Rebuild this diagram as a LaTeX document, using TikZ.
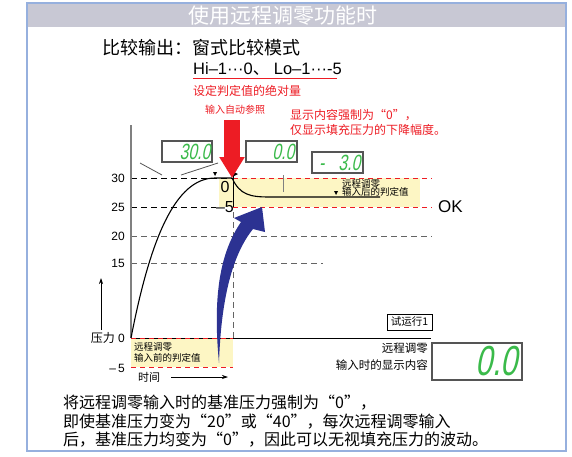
\documentclass[tikz,border=0pt]{standalone}
\usepackage{fontspec}
\setmainfont{Liberation Sans}
\newfontfamily\cjk{Noto Sans CJK SC}
\newfontfamily\lcdfont{Liberation Sans}[FakeStretch=0.72,FakeSlant=0.2]
\usetikzlibrary{arrows.meta}
\definecolor{hdrgray}{RGB}{200,200,212}
\definecolor{frameblue}{RGB}{150,176,222}
\definecolor{mred}{RGB}{237,28,36}
\definecolor{pale}{RGB}{253,246,196}
\definecolor{navy}{RGB}{44,50,146}
\definecolor{lcdgreen}{RGB}{58,186,74}
\definecolor{lcdframe}{RGB}{85,85,85}
\definecolor{dashgray}{RGB}{100,100,100}

\begin{document}
\begin{tikzpicture}[x=1pt,y=-1pt,
  every node/.style={inner sep=0pt},
  blackdash/.style={black,line width=0.8pt,dash pattern=on 6pt off 4pt},
  graydash/.style={dashgray,line width=1pt,dash pattern=on 6pt off 4pt},
  reddash/.style={mred,line width=0.9pt,dash pattern=on 5pt off 4pt},
  lcdbox/.style={draw=lcdframe,line width=1.1pt,fill=white},
  lcddigit/.style={text=lcdgreen,font=\lcdfont\fontsize{#1}{#1}\selectfont},
  axnum/.style={anchor=east,font=\fontsize{12}{12}\selectfont}]
\useasboundingbox (0,0) rectangle (572,456);
% frame and title bar
\fill [hdrgray] (27,3) rectangle (566,27);
\draw [frameblue,line width=1.5pt] (27,3) rectangle (566,451);
\node [text=white,font=\cjk\fontsize{21}{21}\selectfont] (title) at (283,16) {使用远程调零功能时};
\node [anchor=west,font=\cjk\fontsize{18}{18}\selectfont] (mode) at (102,48) {比较输出：窗式比较模式};
\node [anchor=west,font=\fontsize{16.5}{16.5}\selectfont] (setval) at (193,69) {Hi–1···0{\cjk 、} Lo–1···-5};
\draw [mred,line width=1pt] (193,78) -- (337,78);
\node [anchor=west,text=mred,font=\cjk\fontsize{12}{12}\selectfont] (absval) at (193,91) {设定判定值的绝对量};
\node [anchor=west,text=mred,font=\cjk\fontsize{10}{10}\selectfont] (autoref) at (205,110) {输入自动参照};
\node [anchor=west,text=mred,font=\cjk\fontsize{12}{12}\selectfont] (noteA) at (290,115) {显示内容强制为“0”，};
\node [anchor=west,text=mred,font=\cjk\fontsize{12}{12}\selectfont] (noteB) at (290,130) {仅显示填充压力的下降幅度。};
% pale bands
\fill [pale] (219,178) rectangle (420,207);
\fill [pale] (131,338) rectangle (233,367);
% level lines
\coordinate (origin) at (131,338);
\coordinate (peak) at (232,178);
\draw [blackdash] (131,178) -- (233,178);
\draw [blackdash] (131,207) -- (216,207);
\draw [graydash] (131,236) -- (432,236);
\draw [graydash] (131,263) -- (323,263);
\draw [graydash] (233,212) -- (233,338);
\draw [reddash] (233,178) -- (432,178);
\draw [reddash] (233,207) -- (432,207);
% axes
\draw [gray,line width=1.2pt] (131,125) -- (origin);
\draw [black,line width=0.8pt] (origin) -- (431,338);
\draw [reddash] (131,338) -- (233,338);
\draw [reddash] (131,367) -- (233,367);
\draw [black,line width=0.8pt] (233,150) -- (233,207);
\draw [gray,line width=1pt] (283,175) -- (283,192);
% pressure curve
\draw [black,line width=1.1pt] (origin) .. controls (150,240) and (175,178) .. (215,178) -- (peak)
  .. controls (240,195) and (250,197) .. (270,197) -- (380,197);
\fill [black] (213,172) -- (217,172) -- (215,176) -- cycle;
\fill [black] (234,172) -- (238,174) -- (234,176) -- cycle;
\fill [black] (334,191) -- (338,191) -- (336,195) -- cycle;
% callout lines of the first display
\draw [lcdframe,line width=0.8pt] (140,163) -- (162,175);
\draw [lcdframe,line width=0.8pt] (181,175) -- (218,163);
% displays
\node [lcdbox,minimum width=50pt,minimum height=21pt] (boxA) at (187,151.5) {};
\node [lcddigit=22,anchor=east] (digA) at ([xshift=-2pt]boxA.east) {30.0};
\node [lcdbox,minimum width=51pt,minimum height=21pt] (boxB) at (271.5,151.5) {};
\node [lcddigit=22,anchor=east] (digB) at ([xshift=-3pt]boxB.east) {0.0};
\node [lcdbox,minimum width=51pt,minimum height=21pt] (boxC) at (337.5,162.5) {};
\node [lcddigit=22,anchor=east] (digC) at ([xshift=-3pt]boxC.east) {-\hspace{14pt}3.0};
\node [lcdbox,minimum width=90pt,minimum height=37pt] (boxD) at (477,361.5) {};
\node [lcddigit=42,anchor=east] (digD) at ([xshift=-5pt]boxD.east) {0.0};
% red arrow
\coordinate (refTop) at (232,120);
\draw [mred,line width=16pt,-{Triangle[width=24pt,length=21pt]}] (refTop) -- (peak);
% blue arrow
\fill [navy] (219,363) .. controls (212,290) and (222,250) .. (241,222) -- (234,218) -- (262,207)
  -- (265,232) -- (253,229) .. controls (232,255) and (221,300) .. cycle;
% labels on the graph
\node [font=\fontsize{16}{16}\selectfont] (zero) at (225,187) {0};
\node [anchor=east,font=\fontsize{16}{16}\selectfont] (minusfive) at (234,207) {–5};
\node [anchor=west,font=\fontsize{17}{17}\selectfont] (ok) at (438,207) {OK};
\node [anchor=west,font=\cjk\fontsize{9.5}{9.5}\selectfont] (afterA) at (342,184) {远程调零};
\node [anchor=west,font=\cjk\fontsize{9.5}{9.5}\selectfont] (afterB) at (342,192) {输入后的判定值};
\node [anchor=west,font=\cjk\fontsize{9.5}{9.5}\selectfont] (beforeA) at (134,347) {远程调零};
\node [anchor=west,font=\cjk\fontsize{9.5}{9.5}\selectfont] (beforeB) at (134,358) {输入前的判定值};
\node [axnum] (yA) at (125,178) {30};
\node [axnum] (yB) at (125,207) {25};
\node [axnum] (yC) at (125,236) {20};
\node [axnum] (yD) at (125,263) {15};
\node [axnum] (yE) at (125,338) {{\cjk 压力} 0};
\node [axnum] (yF) at (125,368) {–\,5};
\node [anchor=west,font=\cjk\fontsize{11}{11}\selectfont] (time) at (138,377) {时间};
\coordinate (upA) at (101,330);
\coordinate (upB) at (101,278);
\coordinate (tmA) at (171,377);
\coordinate (tmB) at (228,377);
\draw [black,line width=0.7pt,-{Stealth[length=6pt,width=4pt]}] (upA) -- (upB);
\draw [black,line width=0.7pt,-{Stealth[length=6pt,width=4pt]}] (tmA) -- (tmB);
% trial run and display text
\node [draw=black,line width=0.8pt,minimum width=45pt,minimum height=16pt,font=\cjk\fontsize{10.5}{10.5}\selectfont] (trial) at (409.5,322) {试运行1};
\node [anchor=east,font=\cjk\fontsize{11.5}{11.5}\selectfont] (dispA) at (428,348) {远程调零};
\node [anchor=east,font=\cjk\fontsize{11.5}{11.5}\selectfont] (dispB) at (428,365) {输入时的显示内容};
% bottom text
\node [anchor=west,font=\cjk\fontsize{16}{16}\selectfont] (lineA) at (63,403) {将远程调零输入时的基准压力强制为“0”，};
\node [anchor=west,font=\cjk\fontsize{16}{16}\selectfont] (lineB) at (63,422) {即使基准压力变为“20”或“40”，每次远程调零输入};
\node [anchor=west,font=\cjk\fontsize{16}{16}\selectfont] (lineC) at (63,440) {后，基准压力均变为“0”，因此可以无视填充压力的波动。};
\end{tikzpicture}
\end{document}
